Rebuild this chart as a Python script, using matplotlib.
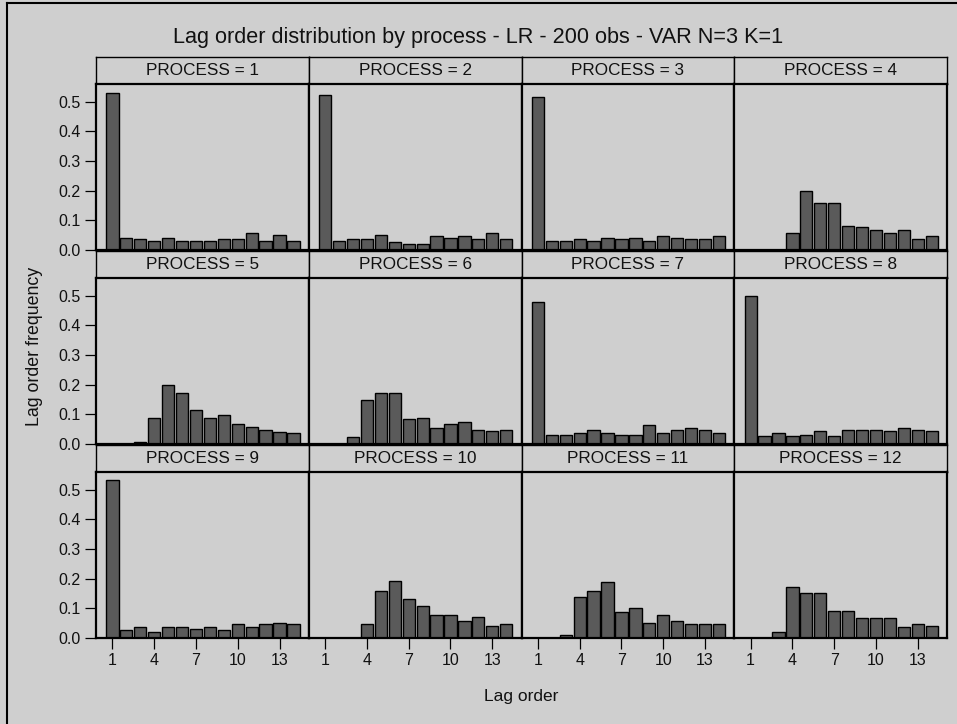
import matplotlib
matplotlib.use("Agg")
import matplotlib.pyplot as plt
from matplotlib.lines import Line2D

plt.rcParams['font.family'] = ['Liberation Sans', 'DejaVu Sans']

# Lag orders on the x axis and the tick values shown
lags = list(range(1, 15))
x_ticks = [1, 4, 7, 10, 13]
y_ticks = [0.0, 0.1, 0.2, 0.3, 0.4, 0.5]
process_ids = list(range(1, 13))

# Selected-lag frequencies for each simulated process
proc_1 = [0.528, 0.042, 0.036, 0.030, 0.040, 0.030, 0.030, 0.030, 0.036, 0.036, 0.056, 0.030, 0.052, 0.030]
proc_2 = [0.521, 0.030, 0.036, 0.036, 0.052, 0.026, 0.020, 0.020, 0.046, 0.040, 0.046, 0.036, 0.056, 0.036]
proc_3 = [0.516, 0.030, 0.030, 0.036, 0.030, 0.040, 0.036, 0.040, 0.030, 0.046, 0.040, 0.036, 0.036, 0.046]
proc_4 = [0.0, 0.0, 0.0, 0.057, 0.198, 0.157, 0.157, 0.082, 0.076, 0.066, 0.056, 0.066, 0.036, 0.046]
proc_5 = [0.0, 0.0, 0.006, 0.088, 0.198, 0.173, 0.113, 0.087, 0.097, 0.067, 0.057, 0.047, 0.041, 0.037]
proc_6 = [0.0, 0.0, 0.022, 0.148, 0.173, 0.173, 0.083, 0.087, 0.053, 0.067, 0.073, 0.047, 0.043, 0.047]
proc_7 = [0.480, 0.030, 0.030, 0.037, 0.047, 0.037, 0.030, 0.030, 0.063, 0.037, 0.047, 0.053, 0.047, 0.037]
proc_8 = [0.500, 0.027, 0.037, 0.027, 0.032, 0.043, 0.027, 0.047, 0.047, 0.047, 0.043, 0.053, 0.047, 0.043]
proc_9 = [0.531, 0.026, 0.036, 0.021, 0.036, 0.036, 0.030, 0.036, 0.026, 0.046, 0.036, 0.046, 0.051, 0.046]
proc_10 = [0.0, 0.0, 0.0, 0.046, 0.157, 0.193, 0.131, 0.107, 0.076, 0.076, 0.056, 0.072, 0.040, 0.046]
proc_11 = [0.0, 0.0, 0.011, 0.137, 0.157, 0.188, 0.087, 0.102, 0.052, 0.076, 0.056, 0.046, 0.046, 0.046]
proc_12 = [0.0, 0.0, 0.021, 0.173, 0.153, 0.153, 0.092, 0.092, 0.066, 0.066, 0.066, 0.036, 0.046, 0.042]

panels = [proc_1, proc_2, proc_3, proc_4, proc_5, proc_6,
          proc_7, proc_8, proc_9, proc_10, proc_11, proc_12]

BG = '#cfcfcf'
BAR = '#5a5a5a'

W, H = 957, 724
fig = plt.figure(figsize=(W / 100, H / 100), dpi=100, facecolor=BG)


def box(x0, y0, x1, y1):
    """Pixel box (top-left origin) -> figure-fraction rect."""
    return [x0 / W, 1 - y1 / H, (x1 - x0) / W, (y1 - y0) / H]


left0, col_w = 96.0, 212.75
top0, row_pitch, ax_h, strip_h = 84.3, 194.0, 165.7, 27.0

for i, (pid, vals) in enumerate(zip(process_ids, panels)):
    r, c = divmod(i, 4)
    x0 = left0 + c * col_w
    x1 = x0 + col_w
    t = top0 + r * row_pitch

    # strip header
    sax = fig.add_axes(box(x0, t - strip_h, x1, t))
    sax.set_facecolor(BG)
    sax.set_xticks([])
    sax.set_yticks([])
    for s in sax.spines.values():
        s.set_linewidth(1.0)
    sax.text(0.5, 0.5, f"PROCESS = {pid}", ha='center', va='center',
             fontsize=12.3, color='#111111', transform=sax.transAxes)

    ax = fig.add_axes(box(x0, t, x1, t + ax_h))
    ax.set_facecolor(BG)
    ax.bar(lags, vals, width=0.88, color=BAR, edgecolor='black', linewidth=1.0)
    ax.set_xlim(-0.18, 15.1)
    ax.set_ylim(0, 0.5585)
    for s in ax.spines.values():
        s.set_linewidth(1.6)
        s.set_zorder(5)
    ax.set_xticks(x_ticks)
    ax.set_yticks(y_ticks)
    ax.set_yticklabels([f"{v:.1f}" for v in y_ticks])
    ax.set_xticklabels([str(v) for v in x_ticks])
    ax.tick_params(direction='out', length=8, width=0.9, labelsize=11.5,
                   pad=3, colors='black', labelcolor='#111111')
    if c != 0:
        ax.tick_params(left=False, labelleft=False)
    if r != 2:
        ax.tick_params(bottom=False, labelbottom=False)

fig.text(478 / W, 1 - 38 / H,
         "Lag order distribution by process - LR - 200 obs - VAR N=3 K=1",
         ha='center', va='center', fontsize=15.6, color='#111111')
fig.text(521 / W, 1 - 697 / H, "Lag order", ha='center', va='center',
         fontsize=12.5, color='#111111')
fig.text(35 / W, 1 - 346 / H, "Lag order frequency", ha='center', va='center',
         rotation=90, fontsize=12.8, color='#111111')

# outer frame of the graph area
fig.add_artist(Line2D([7 / W, 7 / W], [0, 1 - 3 / H], color='black', lw=1.5,
                      transform=fig.transFigure))
fig.add_artist(Line2D([7 / W, 1], [1 - 3 / H, 1 - 3 / H], color='black', lw=1.5,
                      transform=fig.transFigure))

fig.savefig("out.png", dpi=100, facecolor=BG)
